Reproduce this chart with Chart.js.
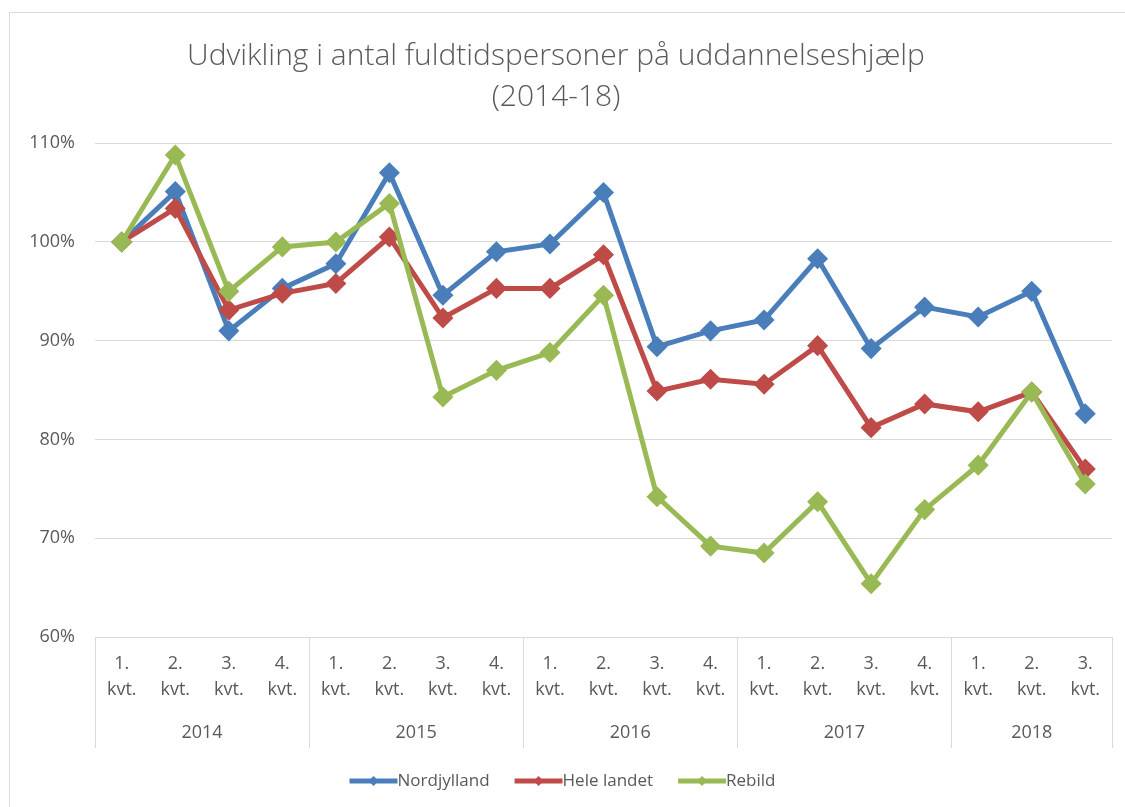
<!DOCTYPE html>
<html>
<head>
<meta charset="utf-8">
<title>Udvikling i antal fuldtidspersoner på uddannelseshjælp</title>
<script src="https://cdn.jsdelivr.net/npm/chart.js@4.4.1/dist/chart.umd.min.js"></script>
<style>
  html, body { margin: 0; padding: 0; background: #fff; }
  #wrap { position: relative; width: 1125px; height: 807px; overflow: hidden; }
  #frame { position: absolute; left: 9px; top: 12px; width: 1200px; height: 900px; border: 1px solid #d9d9d9; }
  canvas { position: absolute; left: 0; top: 0; }
</style>
</head>
<body>
<div id="wrap">
  <div id="frame"></div>
  <canvas id="chart" width="1125" height="807"></canvas>
</div>
<script>
// data (percent)
const quarters = ["1.", "2.", "3.", "4.", "1.", "2.", "3.", "4.", "1.", "2.", "3.", "4.", "1.", "2.", "3.", "4.", "1.", "2.", "3."];
const years = ["2014", "2015", "2016", "2017", "2018"];
const quartersPerYear = [4, 4, 4, 4, 3];
const yTicks = [60, 70, 80, 90, 100, 110];

const nordjylland = [100, 105.1, 91.0, 95.3, 97.8, 107.0, 94.6, 99.0, 99.8, 105.0, 89.4, 91.0, 92.1, 98.3, 89.2, 93.4, 92.4, 95.0, 82.6];
const heleLandet = [100, 103.4, 93.1, 94.8, 95.8, 100.5, 92.3, 95.3, 95.3, 98.7, 84.9, 86.1, 85.6, 89.5, 81.2, 83.6, 82.8, 84.8, 77.0];
const rebild = [100, 108.8, 95.0, 99.5, 100.0, 103.9, 84.3, 87.0, 88.8, 94.6, 74.2, 69.2, 68.5, 73.7, 65.4, 72.9, 77.4, 84.8, 75.5];

const txt = "#595959";
const fontFam = "'Open Sans', sans-serif";

function series(label, data, color, order) {
    return {
        label: label,
        data: data,
        borderColor: color,
        backgroundColor: color,
        pointBackgroundColor: color,
        pointBorderColor: color,
        borderWidth: 5,
        pointStyle: "rectRot",
        pointRadius: 7,
        pointHoverRadius: 7,
        tension: 0,
        order: order
    };
}

// year row, boxes and legend below the plot (excel style)
const belowAxis = {
    id: "belowAxis",
    afterDraw(chart) {
        const ctx = chart.ctx;
        const x = chart.scales.x;
        const area = chart.chartArea;
        const step = x.getPixelForValue(1) - x.getPixelForValue(0);
        const bottom = area.bottom + 111;

        ctx.save();
        ctx.strokeStyle = "#d9d9d9";
        ctx.lineWidth = 1;

        let start = 0;
        let edges = [area.left];
        years.forEach((y, i) => {
            const n = quartersPerYear[i];
            const l = x.getPixelForValue(start) - step / 2;
            const r = x.getPixelForValue(start + n - 1) + step / 2;
            edges.push(r);
            ctx.fillStyle = txt;
            ctx.font = "18px " + fontFam;
            ctx.textAlign = "center";
            ctx.textBaseline = "middle";
            ctx.fillText(y, (l + r) / 2, area.bottom + 96);
            start += n;
        });
        edges.forEach(e => {
            const px = Math.round(e) + 0.5;
            ctx.beginPath();
            ctx.moveTo(px, area.bottom);
            ctx.lineTo(px, bottom);
            ctx.stroke();
        });

        // legend
        ctx.font = "17px " + fontFam;
        const sets = chart.data.datasets;
        const lineLen = 48, gap = 25;
        let total = 0;
        sets.forEach((d, i) => {
            total += lineLen + ctx.measureText(d.label).width + (i < sets.length - 1 ? gap : 0);
        });
        let lx = chart.width / 2 - total / 2;
        const ly = 781;
        sets.forEach(d => {
            ctx.strokeStyle = d.borderColor;
            ctx.lineWidth = 5;
            ctx.beginPath();
            ctx.moveTo(lx, ly);
            ctx.lineTo(lx + lineLen, ly);
            ctx.stroke();
            const cx = lx + lineLen / 2, r = 5;
            ctx.fillStyle = d.borderColor;
            ctx.beginPath();
            ctx.moveTo(cx, ly - r);
            ctx.lineTo(cx + r, ly);
            ctx.lineTo(cx, ly + r);
            ctx.lineTo(cx - r, ly);
            ctx.closePath();
            ctx.fill();
            ctx.fillStyle = txt;
            ctx.textAlign = "left";
            ctx.textBaseline = "middle";
            ctx.fillText(d.label, lx + lineLen, ly);
            lx += lineLen + ctx.measureText(d.label).width + gap;
        });
        ctx.restore();
    }
};

const ctx = document.getElementById("chart").getContext("2d");

new Chart(ctx, {
    type: "line",
    data: {
        labels: quarters.map(q => [q, "kvt."]),
        datasets: [
            series("Nordjylland", nordjylland, "#4A7EBB", 2),
            series("Hele landet", heleLandet, "#BE4B48", 1),
            series("Rebild", rebild, "#98B954", 0)
        ]
    },
    plugins: [belowAxis],
    options: {
        responsive: false,
        animation: false,
        layout: {
            padding: { left: 0, right: 13, top: 0, bottom: 0 }
        },
        plugins: {
            legend: { display: false },
            tooltip: { enabled: false },
            title: {
                display: true,
                text: ["Udvikling i antal fuldtidspersoner på uddannelseshjælp", "(2014-18)"],
                color: txt,
                font: { family: fontFam, size: 30, weight: "300", lineHeight: 1.37 },
                padding: { top: 36, bottom: 25 }
            }
        },
        scales: {
            y: {
                min: yTicks[0],
                max: yTicks[yTicks.length - 1],
                afterBuildTicks: s => { s.ticks = yTicks.map(v => ({ value: v })); },
                afterFit: s => { s.width = 95; },
                ticks: {
                    color: txt,
                    font: { family: fontFam, size: 18 },
                    padding: 20,
                    callback: v => v + "%"
                },
                grid: { color: "#d9d9d9", drawTicks: false },
                border: { display: false }
            },
            x: {
                offset: true,
                afterFit: s => { s.height = 170; },
                ticks: {
                    color: txt,
                    font: { family: fontFam, size: 18, lineHeight: 1.45 },
                    padding: 14,
                    maxRotation: 0,
                    autoSkip: false
                },
                grid: { display: false, drawTicks: false, offset: true },
                border: { display: false }
            }
        }
    }
});
</script>
</body>
</html>
